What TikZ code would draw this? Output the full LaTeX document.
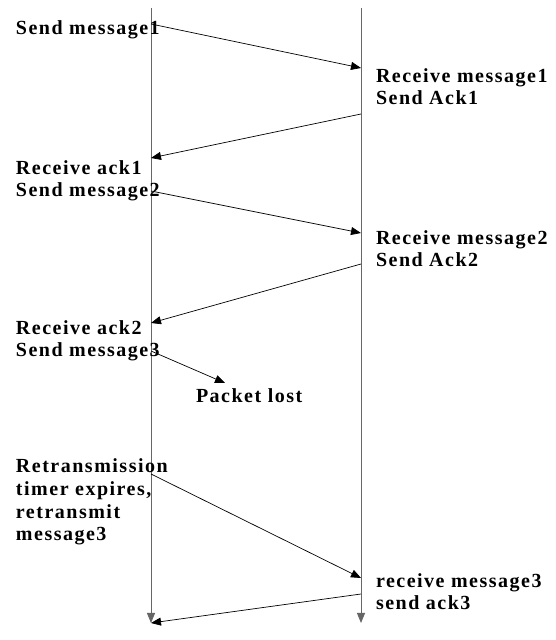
\documentclass[tikz,border=0pt]{standalone}
\usepackage{fontspec}
\setmainfont{Liberation Serif}[LetterSpace=7.5]
\usetikzlibrary{arrows.meta}
\begin{document}
\begin{tikzpicture}[x=1pt,y=1pt]
\definecolor{fillColor}{RGB}{255,255,255}
\definecolor{lineColor}{gray}{0.40}
\definecolor{drawColor}{RGB}{0,0,0}
\tikzset{
  lifeline/.style={draw=lineColor,line width=0.9pt,-{Triangle[length=10pt,width=8pt]}},
  msgarrow/.style={draw=drawColor,line width=0.7pt,-{Triangle[length=10pt,width=8pt]}},
  event/.style={text=drawColor,anchor=base west,inner sep=0pt,outer sep=0pt,align=left,
    font=\fontsize{20}{22.7}\selectfont\bfseries}
}
\path[use as bounding box,fill=fillColor] (0,0) rectangle (555,640);

% lifelines
\coordinate (senderTop) at (151,632);
\coordinate (senderEnd) at (151,17);
\coordinate (receiverTop) at (361,632);
\coordinate (receiverEnd) at (361,17);
\path[lifeline] (senderTop) -- (senderEnd);
\path[lifeline] (receiverTop) -- (receiverEnd);

% sender side (base = last line)
\node[event] (sendOne) at ( 16,605) {Send message1};
\node[event] (recvAckOne) at ( 16,443) {Receive ack1\\Send message2};
\node[event] (recvAckTwo) at ( 16,283) {Receive ack2\\Send message3};
\node[event] (lost) at (196,237) {Packet lost};
\node[event] (retrans) at ( 16, 99) {Retransmission\\timer expires,\\retransmit\\message3};

% receiver side
\node[event] (recvOne) at (376,535) {Receive message1\\Send Ack1};
\node[event] (recvTwo) at (376,373) {Receive message2\\Send Ack2};
\node[event] (recvThree) at (376, 30) {receive message3\\send ack3};

% arrow end points
\coordinate (m1s) at (151,616);
\coordinate (m1r) at (361,572);
\coordinate (a1s) at (361,526);
\coordinate (a1r) at (151,482);
\coordinate (m2s) at (151,449);
\coordinate (m2r) at (361,407);
\coordinate (a2s) at (361,376);
\coordinate (a2r) at (151,317);
\coordinate (m3s) at (151,289);
\coordinate (m3lost) at (225,257);
\coordinate (r3s) at (151,166);
\coordinate (r3r) at (361, 62);
\coordinate (a3s) at (361, 46);
\coordinate (a3r) at (151, 17);

\path[msgarrow] (m1s) -- (m1r);
\path[msgarrow] (a1s) -- (a1r);
\path[msgarrow] (m2s) -- (m2r);
\path[msgarrow] (a2s) -- (a2r);
\path[msgarrow] (m3s) -- (m3lost);
\path[msgarrow] (r3s) -- (r3r);
\path[msgarrow] (a3s) -- (a3r);
\end{tikzpicture}
\end{document}
